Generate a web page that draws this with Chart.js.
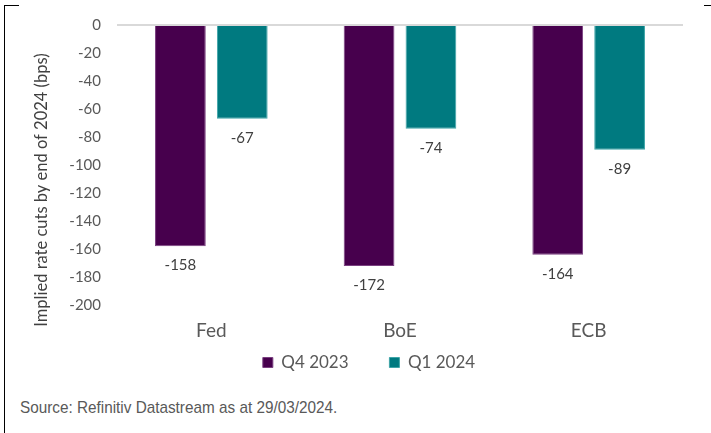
<!DOCTYPE html>
<html>
<head>
<meta charset="utf-8">
<script src="https://cdn.jsdelivr.net/npm/chart.js@4"></script>
<style>
  html, body { margin: 0; padding: 0; background: #fff; }
  body { width: 711px; height: 433px; position: relative; overflow: hidden; }
  #wrap { position: absolute; left: 0; top: 0; width: 711px; height: 386px; }
  .frame-l { position: absolute; left: 4px; top: 5px; width: 1px; height: 428px; background: #000; }
  .frame-t { position: absolute; left: 4px; top: 5px; width: 15px; height: 1px; background: #000; }
  .frame-r { position: absolute; left: 704px; top: 5px; width: 7px; height: 1px; background: #000; }
  #source { position: absolute; left: 20px; top: 398px; font-family: "Liberation Sans", Arial, sans-serif;
            font-size: 17px; color: #595959; transform: scaleX(0.9); transform-origin: left top; white-space: nowrap; }
</style>
</head>
<body>
<div id="wrap"><canvas id="grafico"></canvas></div>
<div class="frame-l"></div><div class="frame-t"></div><div class="frame-r"></div>
<div id="source">Source: Refinitiv Datastream as at 29/03/2024.</div>
<script>
// Datos del gráfico
const categorias = ['Fed', 'BoE', 'ECB'];
const serieQ4 = [-158, -172, -164];
const serieQ1 = [-67, -74, -89];
const nombresSeries = ['Q4 2023', 'Q1 2024'];
const tituloEjeY = 'Implied rate cuts by end of 2024 (bps)';

const fuente = 'Lato, "Noto Sans", sans-serif';

// Etiquetas de valor debajo de cada barra
const etiquetasValor = {
    id: 'etiquetasValor',
    afterDatasetsDraw(chart) {
        const ctx = chart.ctx;
        ctx.save();
        ctx.font = '15px ' + fuente;
        ctx.fillStyle = '#404040';
        ctx.textAlign = 'center';
        ctx.textBaseline = 'middle';
        chart.data.datasets.forEach((ds, i) => {
            chart.getDatasetMeta(i).data.forEach((bar, j) => {
                ctx.fillText(ds.data[j], bar.x, bar.y + 19);
            });
        });
        ctx.restore();
    }
};

// Título del eje Y, algo más abajo que el centro del área
const tituloY = {
    id: 'tituloY',
    afterDraw(chart) {
        const ctx = chart.ctx;
        ctx.save();
        ctx.translate(42, 190);
        ctx.rotate(-Math.PI / 2);
        ctx.font = '16.5px ' + fuente;
        ctx.fillStyle = '#404040';
        ctx.textAlign = 'center';
        ctx.textBaseline = 'middle';
        ctx.fillText(tituloEjeY, 0, 0);
        ctx.restore();
    }
};

// Desplazar un poco la leyenda a la derecha
const moverLeyenda = {
    id: 'moverLeyenda',
    afterLayout(chart) {
        if (chart.legend) {
            chart.legend.left += 11;
            chart.legend.right += 11;
        }
    }
};

const ctx = document.getElementById('grafico').getContext('2d');
new Chart(ctx, {
    type: 'bar',
    data: {
        labels: categorias,
        datasets: [
            { label: nombresSeries[0], data: serieQ4, backgroundColor: '#47004d', borderColor: '#7a3f80', borderWidth: 1 },
            { label: nombresSeries[1], data: serieQ1, backgroundColor: '#007a80', borderColor: '#3fa5a8', borderWidth: 1 }
        ]
    },
    options: {
        responsive: true,
        maintainAspectRatio: false,
        animation: false,
        categoryPercentage: 0.656,
        barPercentage: 0.82,
        layout: { padding: { left: 33, right: 28, top: 16, bottom: 5 } },
        plugins: {
            legend: {
                position: 'bottom',
                labels: {
                    boxWidth: 10, boxHeight: 10, padding: 6,
                    color: '#595959',
                    font: { family: fuente, size: 17 },
                    generateLabels(chart) {
                        const items = Chart.defaults.plugins.legend.labels.generateLabels(chart);
                        // espacio extra entre las dos entradas de la leyenda
                        if (items.length) items[0].text = items[0].text + '        ';
                        return items;
                    }
                }
            },
            tooltip: { enabled: false }
        },
        scales: {
            x: {
                grid: { display: false },
                border: { display: false },
                ticks: { color: '#595959', padding: 6, font: { family: fuente, size: 19 } }
            },
            y: {
                min: -200, max: 0,
                afterFit(scale) { scale.width = 84; },
                ticks: { stepSize: 20, padding: 16, color: '#595959', font: { family: fuente, size: 15 } },
                grid: {
                    drawTicks: false,
                    color: c => c.tick && c.tick.value === 0 ? '#d9d9d9' : 'rgba(0,0,0,0)',
                    lineWidth: 2
                },
                border: { display: false },
                title: { display: false }
            }
        }
    },
    plugins: [etiquetasValor, tituloY, moverLeyenda]
});
</script>
</body>
</html>
